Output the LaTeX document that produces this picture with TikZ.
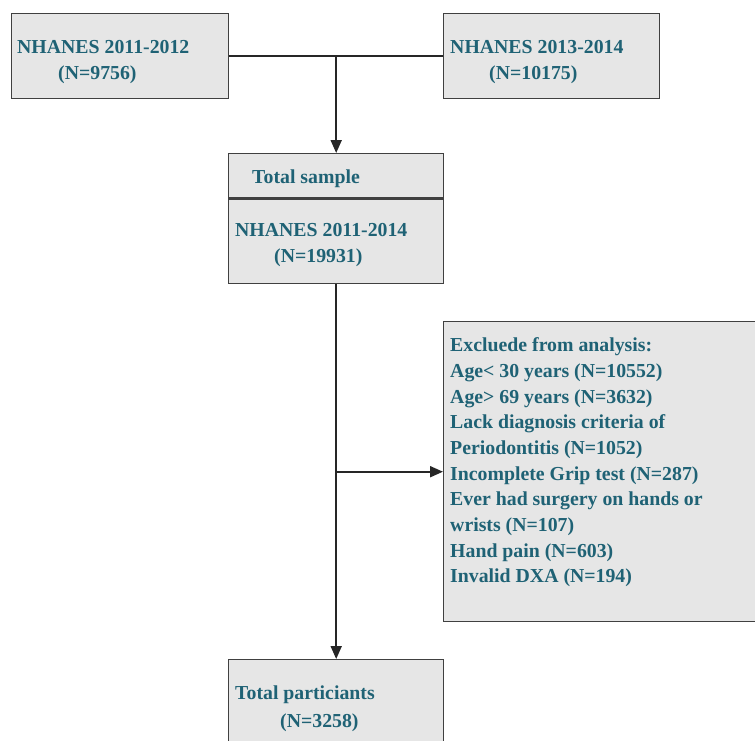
\documentclass[tikz,border=0pt]{standalone}
\usepackage{fontspec}
\setmainfont{Liberation Serif}
\usetikzlibrary{arrows.meta}
\definecolor{txt}{HTML}{1F6275}
\definecolor{boxfill}{HTML}{E6E6E6}
\definecolor{boxline}{HTML}{404040}
\begin{document}
\begin{tikzpicture}[x=1pt,y=-1pt,
 box/.style={draw=boxline, fill=boxfill, line width=1.4pt, inner sep=0pt, anchor=north west},
 lbl/.style={anchor=base west, inner sep=0pt, text=txt, font=\fontsize{19.8}{24}\selectfont\bfseries},
 conn/.style={draw=black!85, line width=1.9pt},
 arr/.style={conn, -{Triangle[length=13pt,width=11pt]}}]
\useasboundingbox (0,0) rectangle (755,740);
\clip (0,0) rectangle (755,740);
% boxes
\node[box, minimum width=217pt, minimum height=85pt] (b1) at (11,13) {};
\node[box, minimum width=216pt, minimum height=85pt] (b2) at (443,13) {};
\node[box, minimum width=215pt, minimum height=44pt] (th) at (228,153) {};
\node[box, minimum width=215pt, minimum height=86pt] (tb) at (228,197) {};
\node[box, minimum width=332pt, minimum height=300pt] (ex) at (443,321) {};
\node[box, minimum width=215pt, minimum height=111pt] (fin) at (228,659) {};
\draw[boxline, line width=2.6pt] (th.south west) -- (th.south east);
% labels
\node[lbl] (t1a) at (17,53) {NHANES 2011-2012};
\node[lbl] (t1b) at (58,79) {(N=9756)};
\node[lbl] (t2a) at (450,53) {NHANES 2013-2014};
\node[lbl] (t2b) at (489,79) {(N=10175)};
\node[lbl] (tha) at (252,183) {Total sample};
\node[lbl] (tba) at (235,236) {NHANES 2011-2014};
\node[lbl] (tbb) at (274,262) {(N=19931)};
\node[lbl] (e1) at (450,351.7) {Excluede from analysis:};
\node[lbl] (e2) at (450,377.3) {Age< 30 years (N=10552)};
\node[lbl] (e3) at (450,403) {Age> 69 years (N=3632)};
\node[lbl] (e4) at (450,428.7) {Lack diagnosis criteria of};
\node[lbl] (e5) at (450,454.3) {Periodontitis (N=1052)};
\node[lbl] (e6) at (450,480) {Incomplete Grip test (N=287)};
\node[lbl] (e7) at (450,505.7) {Ever had surgery on hands or};
\node[lbl] (e8) at (450,531.3) {wrists (N=107)};
\node[lbl] (e9) at (450,557) {Hand pain (N=603)};
\node[lbl] (e10) at (450,582.7) {Invalid DXA (N=194)};
\node[lbl] (fa) at (235,699) {Total particiants};
\node[lbl] (fb) at (280,727) {(N=3258)};
% connectors
\draw[conn] (b1.east) -- (b2.west);
\coordinate (j1) at (th.north |- b1.east);
\draw[arr] (j1) -- (th.north);
\draw[arr] (tb.south) -- (fin.north);
\coordinate (j2) at (tb.south |- ex.west);
\draw[arr] (j2) -- (ex.west);
\end{tikzpicture}
\end{document}
